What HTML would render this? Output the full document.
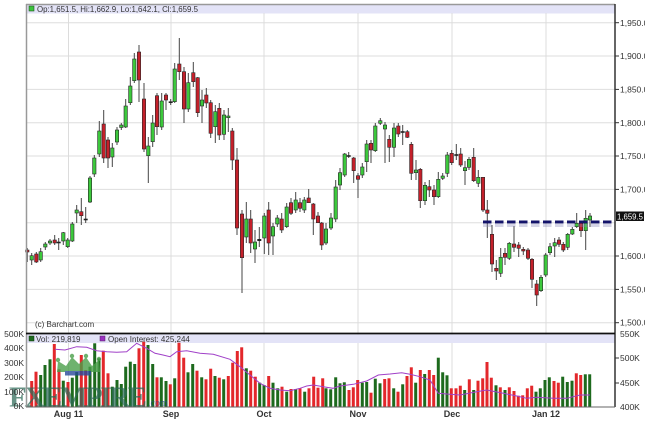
<!DOCTYPE html>
<html><head><meta charset="utf-8"><style>
html,body{margin:0;padding:0;background:#fff;}
svg{display:block;font-family:"Liberation Sans",sans-serif;}
</style></head><body>
<svg id="c" width="645" height="428" viewBox="0 0 645 428" xmlns="http://www.w3.org/2000/svg">
<rect x="0" y="0" width="645" height="428" fill="#fff"/>
<!-- legend band -->
<rect x="26" y="5" width="589" height="8.5" fill="#e3e3f7"/>
<!-- horizontal gridlines price -->
<g stroke="#dedede" stroke-width="1">
<line x1="26" x2="615" y1="22.7" y2="22.7"/><line x1="26" x2="615" y1="56" y2="56"/>
<line x1="26" x2="615" y1="89.4" y2="89.4"/><line x1="26" x2="615" y1="122.7" y2="122.7"/>
<line x1="26" x2="615" y1="156" y2="156"/><line x1="26" x2="615" y1="189.4" y2="189.4"/>
<line x1="26" x2="615" y1="222.7" y2="222.7"/><line x1="26" x2="615" y1="256" y2="256"/>
<line x1="26" x2="615" y1="289.4" y2="289.4"/><line x1="26" x2="615" y1="322.7" y2="322.7"/>
</g>
<!-- vertical gridlines -->
<g stroke="#dcdcdc" stroke-width="1">
<line x1="68.5" x2="68.5" y1="13" y2="407"/><line x1="171" x2="171" y1="13" y2="407"/>
<line x1="264" x2="264" y1="13" y2="407"/><line x1="358" x2="358" y1="13" y2="407"/>
<line x1="452" x2="452" y1="13" y2="407"/><line x1="546" x2="546" y1="13" y2="407"/>
</g>
<!-- volume legend band -->
<rect x="26" y="334.5" width="589" height="8.5" fill="#e3e3f7"/>
<g id="vol"></g>
<!-- watermark -->
<g opacity="0.8">
<polygon points="57,372 58,361 66,366 72,357 79,364 86,357 92,366 99,360 100,372" fill="#4aa04a"/>
<circle cx="58" cy="360" r="2.2" fill="#4aa04a"/><circle cx="72" cy="356" r="2.2" fill="#4aa04a"/>
<circle cx="86" cy="356" r="2.2" fill="#4aa04a"/><circle cx="99" cy="359" r="2.2" fill="#4aa04a"/>
<rect x="65" y="371" width="26" height="4.5" fill="#2a4a9a"/>
</g>
<g opacity="0.72">
<text x="9" y="406.5" font-family="Liberation Serif,serif" font-weight="bold" font-size="29" fill="#2d6a58" textLength="138" lengthAdjust="spacing">FXEMPIRE</text>
<text x="148" y="406" font-family="Liberation Serif,serif" font-size="10" fill="#2a4a8a">.com</text>
</g>
<g id="oi"></g>
<g id="cand"></g>
<!-- dashed line -->
<line x1="483" x2="615" y1="225.5" y2="225.5" stroke="#8a8ab8" stroke-width="3" opacity="0.35" stroke-dasharray="8.5 3.5"/>
<line x1="483" x2="615" y1="222" y2="222" stroke="#14146a" stroke-width="3" stroke-dasharray="8.5 3.5"/>
<!-- borders -->
<line x1="26" x2="615" y1="4.5" y2="4.5" stroke="#999" stroke-width="1.5"/>
<line x1="26.5" x2="26.5" y1="4" y2="407" stroke="#999" stroke-width="1.5"/>
<line x1="615" x2="615" y1="4" y2="407" stroke="#333" stroke-width="1.5"/>
<line x1="26" x2="615" y1="333.5" y2="333.5" stroke="#111" stroke-width="1.8"/>
<line x1="26" x2="615" y1="407" y2="407" stroke="#666" stroke-width="1"/>
<!-- legend texts -->
<rect x="29" y="6" width="5" height="5" fill="#3cc43c" stroke="#225522" stroke-width="0.6"/>
<text x="37" y="12" font-size="8" fill="#333" textLength="161" lengthAdjust="spacingAndGlyphs">Op:1,651.5, Hi:1,662.9, Lo:1,642.1, Cl:1,659.5</text>
<text x="35" y="327" font-size="8" fill="#333">(c) Barchart.com</text>
<rect x="29" y="336" width="5" height="5" fill="#1d6a1d" stroke="#113311" stroke-width="0.5"/>
<text x="36" y="342" font-size="8" fill="#333">Vol: 219,819</text>
<rect x="100" y="336" width="5" height="5" fill="#9a30c0" stroke="#552266" stroke-width="0.5"/>
<text x="108" y="342" font-size="8" fill="#333">Open Interest: 425,244</text>
<!-- right axis -->
<g stroke="#333" stroke-width="1">
<line x1="615" x2="619" y1="22.7" y2="22.7"/><line x1="615" x2="619" y1="56" y2="56"/>
<line x1="615" x2="619" y1="89.4" y2="89.4"/><line x1="615" x2="619" y1="122.7" y2="122.7"/>
<line x1="615" x2="619" y1="156" y2="156"/><line x1="615" x2="619" y1="189.4" y2="189.4"/>
<line x1="615" x2="619" y1="256" y2="256"/>
<line x1="615" x2="619" y1="289.4" y2="289.4"/><line x1="615" x2="619" y1="322.7" y2="322.7"/>
<line x1="615" x2="619" y1="358" y2="358"/><line x1="615" x2="619" y1="383" y2="383"/>
</g>
<g font-size="8.5" fill="#333">
<text x="620" y="25.8">1,950.0</text><text x="620" y="59.1">1,900.0</text>
<text x="620" y="92.5">1,850.0</text><text x="620" y="125.8">1,800.0</text>
<text x="620" y="159.1">1,750.0</text><text x="620" y="192.5">1,700.0</text>
<text x="620" y="259.1">1,600.0</text><text x="620" y="292.5">1,550.0</text>
<text x="620" y="325.3">1,500.0</text>
<text x="620" y="337">550K</text><text x="620" y="361">500K</text>
<text x="620" y="386">450K</text><text x="620" y="410">400K</text>
</g>
<rect x="616" y="211.5" width="28" height="9.5" fill="#111"/>
<text x="617" y="219.5" font-size="8.5" fill="#fff" textLength="26" lengthAdjust="spacingAndGlyphs">1,659.5</text>
<!-- left volume axis -->
<g font-size="8.5" fill="#333" text-anchor="end">
<text x="24" y="337">500K</text><text x="24" y="351">400K</text>
<text x="24" y="366">300K</text><text x="24" y="380">200K</text>
<text x="24" y="395">100K</text><text x="24" y="409">0K</text>
</g>
<!-- x labels -->
<g font-size="9" font-weight="bold" fill="#333" text-anchor="middle">
<text x="68.5" y="417">Aug 11</text><text x="171" y="417">Sep</text>
<text x="264" y="417">Oct</text><text x="358" y="417">Nov</text>
<text x="452" y="417">Dec</text><text x="546" y="417">Jan 12</text>
</g>
</svg>
<script>
(function(){
var NS="http://www.w3.org/2000/svg";
function el(p,t,a){var e=document.createElementNS(NS,t);for(var k in a)e.setAttribute(k,a[k]);p.appendChild(e);return e;}
var C=[
[27.3,250,252,248,262,'r'],[31.7,255.7,260,253,265,'g'],[36.3,254,262,252,263,'r'],[40.7,251.7,260,248,262,'g'],
[45.3,244,247,242,250,'g'],[50,241,243,239,245,'g'],[54.7,240,243,235,245,'r'],[58.7,242,242.8,238,250,'k'],
[63.3,232.7,241,232,245,'g'],[67.7,240,246.7,238,248,'g'],[72.3,224,241,222,242,'g'],[76.7,210,213,205,223,'g'],
[81.3,211.7,215.7,198,225,'r'],[85.7,219,220,207,223,'k'],[90,178,202,176,203,'g'],[94.3,158,174,155,177,'g'],
[99.3,131,154,121,157,'g'],[103.7,124,158,110,163,'r'],[108,140,158,137,168,'r'],[112.3,148,157,143,167,'g'],
[117,130,142,127,145,'g'],[121.3,125,127.5,123,130,'g'],[125.7,106,127,99,128,'g'],[130.3,86,102.7,77,105,'g'],
[134.3,59,80.7,53,83,'g'],[139,52,80,45,102,'r'],[144,99,149,83,152,'r'],[148.3,146,155.7,137,183,'g'],
[152.7,123,141.7,115,147,'g'],[157,95.7,126.7,93,135,'r'],[161.7,101,127,93,130,'g'],[166,95,100,93,110,'r'],
[170.7,101.7,102.5,99,105,'k'],[174.7,69,101.7,63,103,'g'],[179.3,64,71.7,38,80,'r'],[184,71.7,109,67,123,'r'],
[188.3,82.7,109,73,112,'g'],[193.3,72.7,81.7,62,87,'r'],[197.7,77.7,112.7,77,117,'r'],[202,100,106,90,123,'g'],
[206.3,95,103,88,108,'r'],[210.7,102.7,133.3,100,138,'r'],[215.3,111.7,126.7,105,143,'g'],[219.3,108.3,135,103,140,'r'],
[224,115,134.3,110,140,'g'],[228.3,116,117.7,108,132,'g'],[232.3,131,160,128,170,'r'],[237,160,228,148,235,'r'],
[242,214,257.7,210,293,'r'],[246.3,219,237,202,243,'g'],[250.7,219,243,210,253,'r'],[255,242,249,230,263,'g'],
[259.3,239.3,240.7,227,247,'k'],[264.3,216,238,213,254,'g'],[268.7,210,243,202,255,'r'],[273,226.7,236,223,255,'g'],
[277.3,218,224,215,227,'g'],[281.7,219,230,213,233,'r'],[286.7,207,226.7,203,228,'g'],[291,202.7,213.3,198,215,'r'],
[295.7,200,210,192,213,'g'],[300,202.7,208.3,198,212,'r'],[304.3,200,210,197,213,'g'],[308.7,198,202.7,189,203,'r'],
[313.3,204,219,203,235,'r'],[318,216,222.7,212,223,'r'],[321.7,223,245,222,250,'r'],[326,229,243,223,245,'g'],
[331,218,228,213,230,'g'],[335.7,187,219,180,222,'g'],[340,172.7,185,168,190,'g'],[344.7,154,175,153,177,'g'],
[348.7,155.5,156.3,152,158,'k'],[353.7,158,170.7,157,183,'r'],[358,175.7,179.3,173,198,'r'],[362.3,167,175,163,178,'g'],
[366.7,144,161.7,140,172,'g'],[371,143.3,150,140,163,'r'],[375.3,126,150.7,123,152,'g'],[380.3,120.7,123.3,118,125,'g'],
[385,125,129,122,163,'g'],[389.3,139.3,147.3,135,162,'r'],[394,128,147.3,123,157,'g'],[398.3,126,134,123,137,'r'],
[402.7,131.5,132.3,125,145,'k'],[407.3,131.7,137.3,130,138,'r'],[411.3,144.3,173.3,142,180,'r'],[416,170,172.7,160,180,'g'],
[420.3,169.3,200.7,168,208,'r'],[425,185.3,200.7,182,205,'g'],[429.3,186.7,190,180,197,'r'],[434,190,196.7,185,205,'r'],
[438.3,179.3,196.7,172,198,'g'],[442.7,176,178.3,173,180,'g'],[447.3,155,173.3,152,177,'g'],[451.7,153.3,162.7,150,165,'r'],
[456.3,154.5,155.5,144,160,'k'],[460.7,154,165,148,167,'r'],[465,167.7,170.7,161,185,'g'],[469,159.3,167.3,157,170,'g'],
[473.7,157.3,180.7,148,182,'r'],[478.3,177.3,183.3,170,187,'g'],[483,177.3,210,177,212,'r'],[487.3,210,213.3,200,238,'r'],
[492,234.3,264,225,272,'r'],[496.3,268.3,271,260,280,'r'],[500.7,257.3,273.3,248,277,'g'],[505,253.3,257.3,248,265,'r'],
[509.3,243.3,258.3,242,260,'g'],[514,244,247.3,226,252,'r'],[518.7,245,248.3,242,257,'r'],[523.3,249.3,251,247,255,'r'],
[528,250,258.3,248,260,'r'],[532,259.3,279.3,258,288,'r'],[536.7,284,295,280,306,'r'],[541,277.3,290.7,275,292,'g'],
[545.7,255,275,253,277,'g'],[550,246.7,252.7,243,255,'g'],[554.7,242.7,246,238,257,'g'],[559,240,244.3,237,247,'r'],
[563.3,244.3,250,242,252,'r'],[567.7,234.3,247.3,233,250,'g'],[572.3,229.3,234,227,235,'g'],[576.7,223.3,226.7,213,228,'g'],
[581,222.7,230.7,222,237,'r'],[585.7,218.3,230.7,210,250,'g'],[590,216,220,213,227,'g']];
var g=document.getElementById('cand');
C.forEach(function(c){
  el(g,'line',{x1:c[0],x2:c[0],y1:c[3],y2:c[4],stroke:'#444','stroke-width':1});
  var fill=c[5]=='g'?'#3cc83c':(c[5]=='r'?'#c4202a':'#222');
  var h=Math.max(c[2]-c[1],1);
  el(g,'rect',{x:c[0]-1.7,y:c[1],width:3.4,height:h,fill:fill,stroke:c[5]=='k'?'#222':'#2a2a2a','stroke-width':0.6});
});
var V=[[31.7,381,'r'],[36,371.7,'r'],[40.7,375,'g'],[45,365,'g'],[50,359.3,'g'],[54.3,344,'r'],[59,369.3,'r'],[63.3,380.7,'g'],[68,382,'r'],[72.3,377.7,'g'],[76.7,372,'g'],[81.3,355,'r'],[85.7,370,'r'],[90,366.7,'g'],[94.7,343.3,'g'],[99,358.3,'g'],[103.3,350.7,'r'],[108,373.3,'r'],[112.3,386.7,'g'],[117,380,'g'],[121.3,384,'g'],[125.7,366.7,'g'],[130.3,361.7,'g'],[134.7,364,'g'],[139,348.3,'r'],[143.7,341.7,'r'],[148,345,'g'],[152.7,364,'g'],[157,377.3,'r'],[161.3,377.3,'g'],[166,381,'g'],[170.3,384.3,'r'],[174.7,378.3,'g'],[179,342.7,'r'],[183.7,357.7,'r'],[188,372.3,'g'],[192.7,364,'g'],[197,370.7,'r'],[201.7,377.3,'g'],[206,379.3,'r'],[210.7,368.7,'r'],[215,376,'g'],[219.3,377.7,'r'],[223.7,379.3,'g'],[228.3,376,'r'],[232.7,362.7,'r'],[237.3,351,'r'],[241.7,347.3,'r'],[246.3,368.3,'g'],[250.7,370.7,'r'],[255.3,376.7,'r'],[259.7,382.7,'g'],[264,385,'g'],[268.7,376,'r'],[273,382.7,'g'],[277.7,388.3,'g'],[282,386.7,'r'],[286.7,391.7,'g'],[291,389,'r'],[295.7,389,'g'],[300,388.3,'r'],[304.7,391.7,'g'],[309,388.3,'r'],[313.7,376.7,'r'],[318,387.7,'r'],[322.7,378.3,'r'],
[326,388.3,'g'],[330.7,389.3,'g'],[335.7,377.3,'g'],[340,383.3,'g'],[344.3,382.3,'g'],[349,390,'r'],[353.3,387.3,'r'],[357.7,380,'r'],[362.3,382.7,'g'],[366.7,382,'g'],[371,392.7,'r'],[375.3,378.7,'g'],[380,383.3,'g'],[384.7,379,'r'],[389,378.3,'r'],[393.7,388.3,'g'],[398,391.7,'r'],[402.7,384.3,'g'],[407,376,'r'],[411.3,367.3,'r'],[415.7,382.7,'g'],[420.3,370,'r'],[424.7,374,'g'],[429.3,370,'r'],[433.7,375,'r'],[438.3,357.7,'g'],[442.7,372.3,'g'],[447,375.3,'g'],[451.3,388.3,'r'],[456,388.3,'r'],[460.3,385.7,'r'],[464.7,390,'g'],[469.3,379.3,'r'],[473.7,390,'g'],[478,380.7,'r'],[482.7,378.3,'r'],[487,362,'r'],[491.3,377.7,'r'],[496,385.3,'g'],[500.3,387.3,'r'],[505,390,'g'],[509.3,387.3,'r'],[514,391,'r'],[518.3,395.7,'r'],[522.7,395.3,'r'],[527.3,388.3,'r'],[531.7,385.7,'r'],[536,391.7,'g'],[540.3,388.3,'g'],[545,380,'g'],[549.3,377.3,'g'],[554,381,'r'],[558.3,382.7,'r'],[562.7,376.7,'g'],[567.3,382,'g'],[572,380.7,'g'],[576.3,373.3,'r'],[580.7,375,'r'],[585.3,374.3,'g'],[589.7,374.3,'g']];
var vg=document.getElementById('vol');
V.forEach(function(v){
  el(vg,'rect',{x:v[0]-1.5,y:v[1],width:3,height:406.5-v[1],fill:v[2]=='g'?'#1d6a1d':'#e3272b'});
});
var P="55,349.3 65,350 76.7,346.7 86.7,347.3 96.7,350.7 106.7,351.7 116.7,352.3 126.7,351.7 136.7,343.3 146.7,348.3 155,353.3 163,355 170,356.7 176.7,351.7 186.7,350.7 200,353.3 213.3,354.3 230,359.3 240,366.7 250,375 260,383.3 270,388.3 280,390 290,390.7 300,388.3 306.7,386 313.3,385 323.3,386.7 333,388.3 340,386 353.3,384.3 366.7,381 378.3,375 390,374 401.7,372.7 410,374.3 420,376.7 430,380 438.3,393.3 446.7,394 460,395 476.7,391.7 486.7,390 503.3,393.3 516.7,396 526.7,398.3 536.7,397.3 553.3,398.3 566.7,398.3 580,395 590,395";
el(document.getElementById('oi'),'polyline',{points:P,fill:'none',stroke:'#a040c8','stroke-width':1});
})();
</script>
</body></html>
